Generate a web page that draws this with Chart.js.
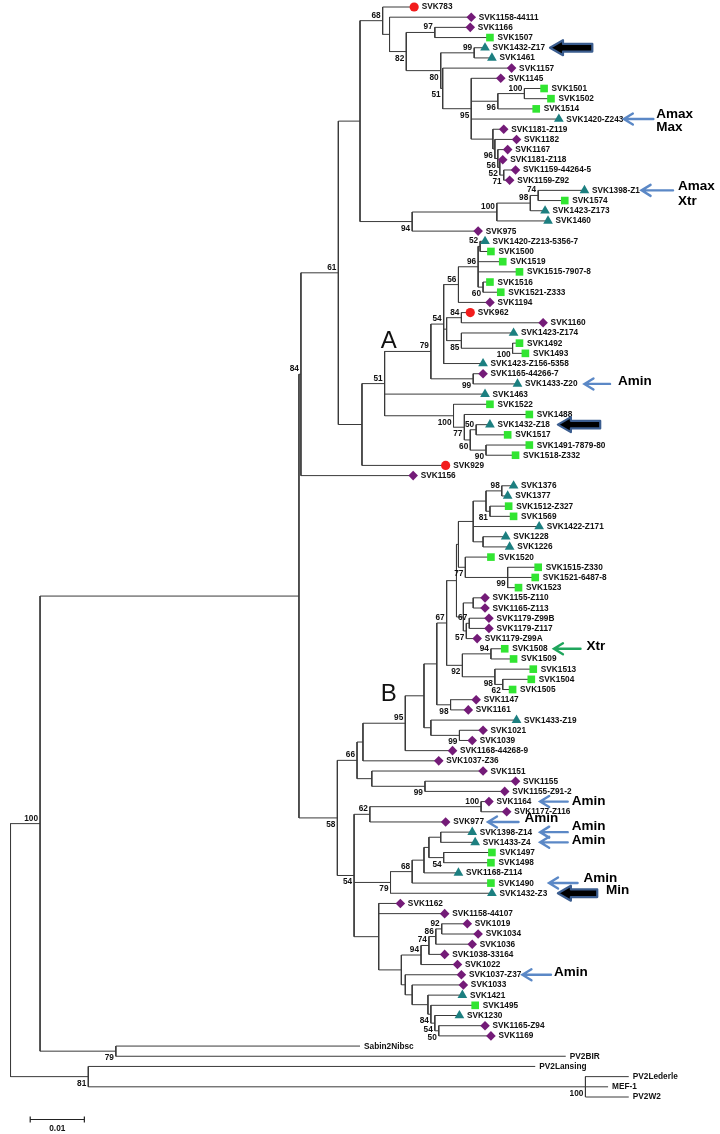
<!DOCTYPE html>
<html>
<head>
<meta charset="utf-8">
<script src="https://cdn.jsdelivr.net/npm/chart.js@4.4.1/dist/chart.umd.min.js"></script>
<style>
  html, body { margin: 0; padding: 0; background: #fff; }
  #wrap { width: 720px; height: 1134px; position: relative; }
</style>
</head>
<body>
<div id="wrap"><canvas id="treeChart"></canvas></div>
<script>
// Tree in Newick form. Every node carries its distance from the root (tree units,
// 55 units = 0.01 substitutions/site), internal nodes carry their bootstrap value.
const cladeTop =
  "(SVK783:415,(SVK1158-44111:473,((SVK1166:472,SVK1507:492)97:436," +
  "((SVK1432-Z17:487,SVK1461:494)99:476,(SVK1157:514,(SVK1145:503," +
  "((SVK1501:547,SVK1502:554)100:527,SVK1514:539)96:500,SVK1420-Z243:562," +
  "(SVK1181-Z119:506,(SVK1182:519,(SVK1167:510,(SVK1181-Z118:505," +
  "(SVK1159-44264-5:518,SVK1159-Z92:512)71:506)52:502)56:500)96:497):495)95:473)51:444)80:442)82:407):390)68:383";
const clade975 =
  "((((SVK1398-Z1:588,SVK1574:568)74:541,SVK1423-Z173:548)98:533,SVK1460:551)100:499,SVK975:480)94:413";
const cladeMid =
  "(((((((SVK1420-Z213-5356-7:487,SVK1500:493)52:482,SVK1519:505,SVK1515-7907-8:522," +
  "(SVK1516:492,SVK1521-Z333:503)60:485)96:480,SVK1194:492)56:460," +
  "((SVK962:472,SVK1160:546)84:463,(SVK1423-Z174:516,(SVK1492:522,SVK1493:528)100:515)85:463):448," +
  "SVK1423-Z156-5358:485)54:445,(SVK1165-44266-7:485,SVK1433-Z20:520)99:475)79:432," +
  "SVK1463:487,(SVK1522:492,(SVK1488:532,((SVK1432-Z18:492,SVK1517:510)50:478," +
  "(SVK1491-7879-80:532,SVK1518-Z332:518)90:488)60:472)77:466)100:455)51:385,SVK929:447):362";
const cladeA = "(((" + cladeTop + "," + clade975 + "):360," + cladeMid + ")61:338,SVK1156:414)84:300";

const cladeB1 =
  "(((((((((((SVK1376:516,SVK1377:510)98:504,(SVK1512-Z327:511,SVK1569:516)81:492):488," +
  "SVK1422-Z171:542,(SVK1228:508,SVK1226:512):485):475," +
  "(SVK1520:493,(SVK1515-Z330:541,SVK1521-6487-8:538,SVK1523:521)99:510)77:467):460," +
  "((SVK1155-Z110:487,SVK1165-Z113:487):475,((SVK1179-Z99B:491,SVK1179-Z117:491)67:471," +
  "SVK1179-Z99A:479)57:468):465):458,((SVK1508:507,SVK1509:516)94:493," +
  "(SVK1513:536,(SVK1504:534,SVK1505:515)62:505)98:497)92:464)67:448," +
  "(SVK1147:478,SVK1161:470)98:452):438,(SVK1433-Z19:519,(SVK1021:485,SVK1039:474)99:461):432):425," +
  "SVK1168-44268-9:454)95:406,SVK1037-Z36:440):363,(SVK1151:485,(SVK1155:518,SVK1155-Z91-2:507)99:426):372)66:357";
const cladeB2 =
  "(((SVK1164:491,SVK1177-Z116:509)100:483,SVK977:447)62:370," +
  "(((((SVK1398-Z14:474,SVK1433-Z4:477):442,(SVK1497:494,SVK1498:493)54:445):430,SVK1168-Z114:460):425," +
  "SVK1490:493)68:413,SVK1432-Z3:494)79:391," +
  "(SVK1162:401,SVK1158-44107:446,(((((SVK1019:469,SVK1034:480)92:443,SVK1036:474)86:437," +
  "SVK1038-33164:446)74:430,SVK1022:459)94:422,(SVK1037-Z37:463,(SVK1033:465,(SVK1421:464," +
  "(SVK1495:477,(SVK1230:461,(SVK1165-Z94:487,SVK1169:493)50:440)54:436)84:432):429):413):406):402):379)54:354";
const cladeB = "(" + cladeB1 + "," + cladeB2 + ")58:337";

const outgroups = "(PV2Lansing:538,(PV2Lederle:633,MEF-1:612,PV2W2:633)100:589)81:84";
const treeNewick = "(((" + cladeA + "," + cladeB + "):298,(Sabin2Nibsc:360,PV2BIR:569)79:112)100:35," + outgroups + "):5";

// marker kind of each leaf, top to bottom: C circle, D diamond, S square, T triangle, N none
const leafKinds = [
  'C','D','D','S','T','T','D','D','S','S', 'S','T','D','D','D','D','D','D','T','S',
  'T','T','D','T','S','S','S','S','S','D', 'C','D','T','S','S','T','D','T','T','S',
  'S','T','S','S','S','C','D','T','T','S', 'S','T','T','T','S','S','S','S','D','D',
  'D','D','D','S','S','S','S','S','D','D', 'T','D','D','D','D','D','D','D','D','D',
  'D','T','T','S','S','T','S','T','D','D', 'D','D','D','D','D','D','D','T','S','T',
  'D','D','N','N','N','N','N','N'
];

const kindStyle = {
  C: { style: 'circle',   radius: 4.6, color: '#f21c1c' },
  D: { style: 'rectRot',  radius: 4.8, color: '#741b78' },
  S: { style: 'rect',     radius: 5.4, color: '#31e531' },
  T: { style: 'triangle', radius: 5.6, color: '#1c7f80' }
};

// arrows and notes beside some isolates
const notes = [
  { leaf: 'SVK1432-Z17',  kind: 'block', x0: 553, x1: 596 },
  { leaf: 'SVK1420-Z243', kind: 'blue',  x0: 628, x1: 658, tx: 661, lines: [['Amax', -5], ['Max', 8]] },
  { leaf: 'SVK1398-Z1',   kind: 'blue',  x0: 646, x1: 678, tx: 683, lines: [['Amax', -4], ['Xtr', 11]] },
  { leaf: 'SVK1433-Z20',  kind: 'blue',  x0: 588, x1: 614, tx: 622, lines: [['Amin', -3]] },
  { leaf: 'SVK1432-Z18',  kind: 'block', x0: 561, x1: 604 },
  { leaf: 'SVK1508',      kind: 'green', x0: 557, x1: 584, tx: 590, lines: [['Xtr', -2]] },
  { leaf: 'SVK1164',      kind: 'blue',  x0: 543, x1: 571, tx: 575, lines: [['Amin', 0]] },
  { leaf: 'SVK977',       kind: 'blue',  x0: 490, x1: 521, tx: 527, lines: [['Amin', -4]] },
  { leaf: 'SVK1398-Z14',  kind: 'blue',  x0: 543, x1: 571, tx: 575, lines: [['Amin', -6]] },
  { leaf: 'SVK1433-Z4',   kind: 'blue',  x0: 543, x1: 571, tx: 575, lines: [['Amin', -2]] },
  { leaf: 'SVK1490',      kind: 'blue',  x0: 552, x1: 581, tx: 587, lines: [['Amin', -5]] },
  { leaf: 'SVK1432-Z3',   kind: 'block', x0: 561, x1: 601, tx: 610, lines: [['Min', -3]] },
  { leaf: 'SVK1037-Z37',  kind: 'blue',  x0: 525, x1: 554, tx: 557, lines: [['Amin', -2]] }
];

const cladeLetters = [ { text: 'A', x: 381, leaf: 32.8 }, { text: 'B', x: 381, leaf: 67.5 } ];
const scaleBar = { value: '0.01', units: 55, x: 25 };

// ---- parse the Newick string ----
function parseNewick(s) {
  let i = 0;
  function node() {
    const n = { children: [] };
    if (s[i] === '(') {
      i++;
      n.children.push(node());
      while (s[i] === ',') { i++; n.children.push(node()); }
      i++;
    }
    let lab = '';
    while (i < s.length && !':,()'.includes(s[i])) lab += s[i++];
    n.label = lab;
    if (s[i] === ':') {
      i++;
      let num = '';
      while (i < s.length && !',()'.includes(s[i])) num += s[i++];
      n.depth = parseFloat(num);
    }
    return n;
  }
  return node();
}

const tree = parseNewick(treeNewick);
const leaves = [];
const inner = [];
(function layout(n, first) {
  n.first = first;
  if (!n.children.length) {
    n.y = leaves.length;
    n.kind = leafKinds[leaves.length];
    leaves.push(n);
    return;
  }
  n.children.forEach((c, k) => layout(c, k === 0));
  n.y = (n.children[0].y + n.children[n.children.length - 1].y) / 2;
  inner.push(n);
})(tree, true);

// branches as one broken polyline
const branchPts = [];
inner.forEach(n => {
  const a = n.children[0], b = n.children[n.children.length - 1];
  branchPts.push({ x: n.depth, y: a.y }, { x: n.depth, y: b.y }, { x: null, y: null });
  n.children.forEach(c => {
    branchPts.push({ x: n.depth, y: c.y }, { x: c.depth, y: c.y }, { x: null, y: null });
  });
});

const markerSets = Object.keys(kindStyle).map(k => ({
  data: leaves.filter(l => l.kind === k).map(l => ({ x: l.depth, y: l.y })),
  pointStyle: kindStyle[k].style,
  pointRadius: kindStyle[k].radius,
  backgroundColor: kindStyle[k].color,
  borderColor: kindStyle[k].color,
  borderWidth: 0,
  showLine: false,
  clip: false,
  order: 0
}));

function narrowText(ctx, str, x, y, align, sx) {
  ctx.save();
  ctx.translate(x, y);
  ctx.scale(sx, 1);
  ctx.textAlign = align;
  ctx.fillText(str, 0, 0);
  ctx.restore();
}

function lineArrow(ctx, x0, x1, y, color) {
  ctx.save();
  ctx.strokeStyle = color;
  ctx.lineWidth = 2.4;
  ctx.lineCap = 'round';
  ctx.beginPath();
  ctx.moveTo(x1, y); ctx.lineTo(x0 + 1, y);
  ctx.moveTo(x0 + 9, y - 5.5); ctx.lineTo(x0, y); ctx.lineTo(x0 + 9, y + 5.5);
  ctx.stroke();
  ctx.restore();
}

function blockArrow(ctx, x0, x1, y) {
  ctx.save();
  ctx.beginPath();
  ctx.moveTo(x0, y);
  ctx.lineTo(x0 + 13, y - 7.5);
  ctx.lineTo(x0 + 13, y - 3.8);
  ctx.lineTo(x1, y - 3.8);
  ctx.lineTo(x1, y + 3.8);
  ctx.lineTo(x0 + 13, y + 3.8);
  ctx.lineTo(x0 + 13, y + 7.5);
  ctx.closePath();
  ctx.fillStyle = '#000';
  ctx.fill();
  ctx.strokeStyle = '#3b5d8f';
  ctx.lineWidth = 2.2;
  ctx.lineJoin = 'round';
  ctx.stroke();
  ctx.restore();
}

const textPlugin = {
  id: 'treeText',
  afterDatasetsDraw(chart) {
    const ctx = chart.ctx;
    const xs = chart.scales.x, ys = chart.scales.y;
    ctx.save();
    ctx.fillStyle = '#111';
    ctx.textBaseline = 'middle';
    ctx.font = 'bold 9px "Liberation Sans", Arial, sans-serif';

    leaves.forEach(l => {
      const gap = l.kind === 'N' ? 4 : 7.5;
      narrowText(ctx, l.label, xs.getPixelForValue(l.depth) + gap, ys.getPixelForValue(l.y), 'left', 0.92);
    });

    inner.forEach(n => {
      if (!n.label) return;
      const dy = n.first ? -5.5 : 6.5;
      narrowText(ctx, n.label, xs.getPixelForValue(n.depth) - 2, ys.getPixelForValue(n.y) + dy, 'right', 0.92);
    });

    // arrows and notes
    notes.forEach(a => {
      const leaf = leaves.find(l => l.label === a.leaf);
      if (!leaf) return;
      const y = ys.getPixelForValue(leaf.y);
      const x0 = xs.getPixelForValue(a.x0), x1 = xs.getPixelForValue(a.x1);
      if (a.kind === 'block') blockArrow(ctx, x0, x1, y);
      else lineArrow(ctx, x0, x1, y, a.kind === 'green' ? '#1fa55c' : '#5b88c6');
      if (a.lines) {
        ctx.fillStyle = '#000';
        ctx.font = 'bold 13.5px "Liberation Sans", Arial, sans-serif';
        a.lines.forEach(([t, dy]) => narrowText(ctx, t, xs.getPixelForValue(a.tx), y + dy, 'left', 1));
      }
    });

    // clade letters
    ctx.fillStyle = '#111';
    ctx.font = '24px "Liberation Sans", Arial, sans-serif';
    cladeLetters.forEach(c => narrowText(ctx, c.text, xs.getPixelForValue(c.x), ys.getPixelForValue(c.leaf), 'left', 1));

    // scale bar
    const bx0 = xs.getPixelForValue(scaleBar.x), bx1 = xs.getPixelForValue(scaleBar.x + scaleBar.units);
    const by = 1119.5;
    ctx.strokeStyle = '#222';
    ctx.lineWidth = 1.2;
    ctx.beginPath();
    ctx.moveTo(bx0, by); ctx.lineTo(bx1, by);
    ctx.moveTo(bx0, by - 3); ctx.lineTo(bx0, by + 3);
    ctx.moveTo(bx1, by - 3); ctx.lineTo(bx1, by + 3);
    ctx.stroke();
    ctx.fillStyle = '#111';
    ctx.font = 'bold 9px "Liberation Sans", Arial, sans-serif';
    narrowText(ctx, scaleBar.value, (bx0 + bx1) / 2, by + 9, 'center', 0.92);
    ctx.restore();
  }
};

new Chart(document.getElementById('treeChart').getContext('2d'), {
  type: 'scatter',
  data: {
    datasets: [
      {
        data: branchPts,
        showLine: true,
        spanGaps: false,
        borderColor: '#3a3a3a',
        borderWidth: 1,
        pointRadius: 0,
        clip: false,
        order: 1
      },
      ...markerSets
    ]
  },
  options: {
    responsive: true,
    maintainAspectRatio: false,
    animation: false,
    events: [],
    layout: { padding: { top: 7, bottom: 37, left: 0, right: 0 } },
    plugins: { legend: { display: false }, tooltip: { enabled: false } },
    scales: {
      x: { type: 'linear', min: 0, max: 720, display: false },
      y: { type: 'linear', min: 0, max: 107, reverse: true, display: false }
    }
  },
  plugins: [textPlugin]
});
</script>
</body>
</html>
